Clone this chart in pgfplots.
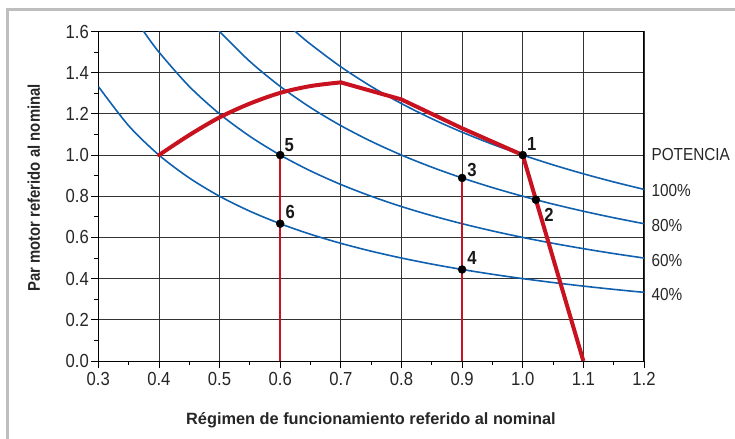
\documentclass[border=0pt]{standalone}
\usepackage{fontspec}
\setmainfont{Liberation Sans}
\newfontfamily\cond{Liberation Sans}[FakeStretch=0.88]
\usepackage{pgfplots}
\pgfplotsset{compat=1.18}
\definecolor{cblue}{RGB}{16,96,176}
\definecolor{cred}{RGB}{200,18,32}
\definecolor{cframe}{RGB}{190,190,190}
\begin{document}
\begin{tikzpicture}
\useasboundingbox (-98.3bp,-78bp) rectangle (636.7bp,361bp);
\draw[cframe, line width=3bp] (-90.8bp,-78bp) -- (-90.8bp,351bp) -- (636.7bp,351bp);
\begin{axis}[
  at={(0,0)}, anchor=south west,
  scale only axis, width=545.7bp, height=329.5bp,
  xmin=0.3, xmax=1.2, ymin=0, ymax=1.6,
  xtick={0.3,0.4,...,1.2}, ytick={0,0.2,...,1.6},
  minor x tick num=1, minor y tick num=1,
  tick pos=left, tick align=outside,
  major tick length=7bp, minor tick length=4bp,
  tick style={black, line width=0.8bp},
  grid=major, major grid style={black!80, line width=0.8bp},
  axis line style={black, line width=1bp},
  /pgf/number format/fixed, /pgf/number format/fixed zerofill, /pgf/number format/precision=1,
  /pgf/number format/assume math mode=true,
  ticklabel style={font=\cond\fontsize{19}{19}\selectfont, text=black!85},
  xticklabel style={yshift=-1bp},
  yticklabel style={xshift=1bp},
  clip mode=individual,
]
% constant power curves
\addplot[cblue, line width=1.6bp, smooth] coordinates {
(0.6,1.6667)(0.625,1.6)(0.65,1.5385)(0.7,1.4286)(0.75,1.3333)(0.8,1.25)(0.85,1.1765)(0.9,1.1111)(0.95,1.0526)(1.0,1.0)(1.05,0.9524)(1.1,0.9091)(1.15,0.8696)(1.2,0.8333)};
\addplot[cblue, line width=1.6bp, smooth] coordinates {
(0.48,1.6667)(0.5,1.6)(0.55,1.4545)(0.6,1.3333)(0.65,1.2308)(0.7,1.1429)(0.75,1.0667)(0.8,1.0)(0.85,0.9412)(0.9,0.8889)(0.95,0.8421)(1.0,0.8)(1.05,0.7619)(1.1,0.7273)(1.15,0.6957)(1.2,0.6667)};
\addplot[cblue, line width=1.6bp, smooth] coordinates {
(0.36,1.6667)(0.375,1.6)(0.4,1.5)(0.45,1.3333)(0.5,1.2)(0.55,1.0909)(0.6,1.0)(0.65,0.9231)(0.7,0.8571)(0.75,0.8)(0.8,0.75)(0.85,0.7059)(0.9,0.6667)(0.95,0.6316)(1.0,0.6)(1.05,0.5714)(1.1,0.5455)(1.15,0.5217)(1.2,0.5)};
\addplot[cblue, line width=1.6bp, smooth] coordinates {
(0.3,1.3333)(0.35,1.1429)(0.4,1.0)(0.45,0.8889)(0.5,0.8)(0.55,0.7273)(0.6,0.6667)(0.65,0.6154)(0.7,0.5714)(0.75,0.5333)(0.8,0.5)(0.85,0.4706)(0.9,0.4444)(0.95,0.4211)(1.0,0.4)(1.05,0.381)(1.1,0.3636)(1.15,0.3478)(1.2,0.3333)};
% thin red verticals
\addplot[cred, line width=1.5bp] coordinates {(0.6,0)(0.6,1.0)};
\addplot[cred, line width=1.5bp] coordinates {(0.9,0)(0.9,0.8889)};
% thick red characteristic
\addplot[cred, line width=4bp, smooth, line cap=round] coordinates {
(0.4,1.0)(0.45,1.097)(0.5,1.183)(0.55,1.25)(0.6,1.302)(0.65,1.335)(0.7,1.353)};
\addplot[cred, line width=4bp, line join=round] coordinates {
(0.7,1.353)(0.8,1.27)(0.9,1.13)(1.0,1.0)(1.1,0)};
% operating points
\addplot[only marks, mark=*, mark size=4bp, black] coordinates {
(1.0,1.0)(1.0217,0.783)(0.9,0.8889)(0.9,0.4444)(0.6,1.0)(0.6,0.6667)};
\begin{scope}[font=\cond\bfseries\fontsize{19}{19}\selectfont, text=black!90]
\node[xshift=9bp, yshift=11bp] at (axis cs:1.0,1.0) {1};
\node[xshift=13bp, yshift=-15bp] at (axis cs:1.0217,0.783) {2};
\node[xshift=10bp, yshift=8bp] at (axis cs:0.9,0.8889) {3};
\node[xshift=10bp, yshift=11bp] at (axis cs:0.9,0.4444) {4};
\node[xshift=9bp, yshift=10bp] at (axis cs:0.6,1.0) {5};
\node[xshift=10bp, yshift=12bp] at (axis cs:0.6,0.6667) {6};
\end{scope}
\begin{scope}[font=\cond\fontsize{17.5}{17.5}\selectfont, text=black!85]
\node[anchor=west, xshift=4bp] at (axis cs:1.2,1.003) {POTENCIA};
\node[anchor=west, xshift=4bp] at (axis cs:1.2,0.827) {100\%};
\node[anchor=west, xshift=4bp] at (axis cs:1.2,0.658) {80\%};
\node[anchor=west, xshift=4bp] at (axis cs:1.2,0.49) {60\%};
\node[anchor=west, xshift=4bp] at (axis cs:1.2,0.325) {40\%};
\end{scope}
\end{axis}
\node[font=\cond\bfseries\fontsize{17}{17}\selectfont, text=black!85, rotate=90] at (-64.5bp,173bp) {Par motor referido al nominal};
\node[font=\bfseries\fontsize{16.4}{16.4}\selectfont, text=black!85] at (272.6bp,-59bp) {Régimen de funcionamiento referido al nominal};
\end{tikzpicture}
\end{document}
